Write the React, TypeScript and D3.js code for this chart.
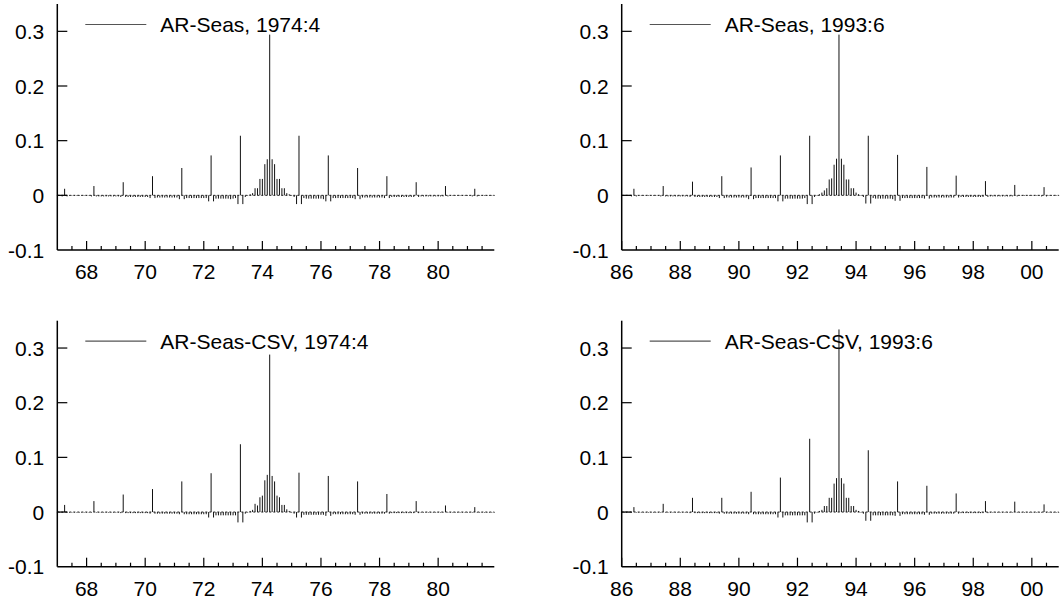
import * as d3 from "d3";

// monthly weights, one row per year (Jan..Dec)
// AR-Seas, 1974:4 -- 1967:1 .. 1981:12
const arSeas74 = [
  -.001, -.001, -.002, .012, -.002, -.001, -.001, -.001, -.001, -.001, -.001, -.001,
  -.001, -.001, -.002, .017, -.002, -.002, -.002, -.002, -.002, -.002, -.002, -.002,
  -.002, -.002, -.003, .024, -.003, -.003, -.003, -.003, -.003, -.003, -.003, -.003,
  -.003, -.003, -.005, .035, -.005, -.004, -.004, -.004, -.004, -.004, -.004, -.004,
  -.004, -.004, -.007, .050, -.007, -.005, -.005, -.005, -.005, -.005, -.005, -.005,
  -.005, -.005, -.011, .073, -.011, -.006, -.006, -.006, -.006, -.006, -.006, -.007,
  -.006, -.005, -.016, .109, -.016, -.003, -.001, .002, .004, .013, .013, .030,
  .030, .057, .066, .294, .066, .057, .030, .030, .013, .013, .004, .002,
  -.001, -.003, -.016, .109, -.016, -.005, -.006, -.006, -.006, -.006, -.006, -.006,
  -.006, -.007, -.011, .073, -.011, -.005, -.005, -.005, -.005, -.005, -.005, -.005,
  -.005, -.005, -.007, .050, -.007, -.004, -.004, -.004, -.004, -.004, -.004, -.004,
  -.004, -.004, -.005, .035, -.005, -.003, -.003, -.003, -.003, -.003, -.003, -.003,
  -.003, -.003, -.003, .024, -.003, -.002, -.002, -.002, -.002, -.002, -.002, -.002,
  -.002, -.002, -.002, .017, -.002, -.001, -.001, -.001, -.001, -.001, -.001, -.001,
  -.001, -.001, -.002, .012, -.002, -.001, -.001, -.001, -.001, -.001, -.001, -.001,
];

// AR-Seas, 1993:6 -- 1986:1 .. 2000:12
const arSeas93 = [
  -.001, -.001, -.001, -.001, -.002, .012, -.002, -.001, -.001, -.001, -.001, -.001,
  -.001, -.001, -.001, -.001, -.002, .017, -.002, -.002, -.002, -.002, -.002, -.002,
  -.002, -.002, -.002, -.002, -.003, .025, -.003, -.003, -.003, -.003, -.003, -.003,
  -.003, -.003, -.003, -.003, -.005, .035, -.005, -.004, -.004, -.004, -.004, -.004,
  -.004, -.004, -.004, -.004, -.007, .051, -.007, -.005, -.005, -.005, -.005, -.005,
  -.005, -.005, -.005, -.005, -.011, .073, -.011, -.006, -.006, -.006, -.006, -.006,
  -.006, -.006, -.006, -.005, -.016, .109, -.016, -.003, -.001, .002, .005, .009,
  .013, .029, .031, .056, .067, .294, .067, .056, .029, .029, .013, .013,
  .005, .002, -.001, -.003, -.015, .109, -.015, -.005, -.006, -.006, -.006, -.006,
  -.006, -.006, -.006, -.007, -.010, .074, -.010, -.005, -.005, -.005, -.005, -.005,
  -.005, -.005, -.005, -.005, -.006, .052, -.006, -.004, -.004, -.004, -.004, -.004,
  -.004, -.004, -.004, -.004, -.004, .036, -.004, -.003, -.003, -.003, -.003, -.003,
  -.003, -.003, -.003, -.003, -.003, .026, -.003, -.002, -.002, -.002, -.002, -.002,
  -.002, -.002, -.002, -.002, -.002, .019, -.002, -.001, -.001, -.001, -.001, -.001,
  -.001, -.001, -.001, -.001, -.002, .015, -.002, -.001, -.001, -.001, -.001, -.001,
];

// AR-Seas-CSV, 1974:4 -- 1967:1 .. 1981:12
const arSeasCsv74 = [
  -.001, -.001, -.001, .013, -.001, -.001, -.001, -.001, -.001, -.001, -.001, -.001,
  -.001, -.001, -.001, .020, -.001, -.001, -.001, -.001, -.001, -.001, -.001, -.001,
  -.001, -.001, -.002, .032, -.002, -.002, -.002, -.002, -.002, -.002, -.002, -.002,
  -.002, -.002, -.003, .042, -.003, -.003, -.003, -.003, -.003, -.003, -.003, -.003,
  -.003, -.003, -.004, .056, -.004, -.004, -.004, -.004, -.004, -.004, -.004, -.004,
  -.004, -.004, -.010, .071, -.010, -.006, -.006, -.006, -.006, -.006, -.006, -.006,
  -.006, -.006, -.019, .124, -.019, -.003, -.001, .002, .004, .015, .012, .027,
  .030, .058, .068, .288, .066, .056, .030, .027, .013, .013, .005, .002,
  -.001, -.003, -.010, .072, -.010, -.005, -.005, -.005, -.005, -.005, -.005, -.005,
  -.005, -.005, -.007, .066, -.007, -.004, -.004, -.004, -.004, -.004, -.004, -.004,
  -.004, -.004, -.005, .056, -.005, -.003, -.003, -.003, -.003, -.003, -.003, -.003,
  -.003, -.003, -.003, .033, -.003, -.002, -.002, -.002, -.002, -.002, -.002, -.002,
  -.002, -.002, -.002, .020, -.002, -.001, -.001, -.001, -.001, -.001, -.001, -.001,
  -.001, -.001, -.001, .012, -.001, -.001, -.001, -.001, -.001, -.001, -.001, -.001,
  -.001, -.001, -.001, .009, -.001, -.001, -.001, -.001, -.001, -.001, -.001, -.001,
];

// AR-Seas-CSV, 1993:6 -- 1986:1 .. 2000:12
const arSeasCsv93 = [
  -.001, -.001, -.001, -.001, -.001, .009, -.001, -.001, -.001, -.001, -.001, -.001,
  -.001, -.001, -.001, -.001, -.001, .015, -.001, -.001, -.001, -.001, -.001, -.001,
  -.001, -.001, -.001, -.001, -.002, .026, -.002, -.002, -.002, -.002, -.002, -.002,
  -.002, -.002, -.002, -.002, -.003, .026, -.003, -.003, -.003, -.003, -.003, -.003,
  -.003, -.003, -.003, -.003, -.004, .037, -.004, -.004, -.004, -.004, -.004, -.004,
  -.004, -.004, -.004, -.004, -.010, .063, -.010, -.006, -.006, -.006, -.006, -.006,
  -.006, -.006, -.006, -.006, -.019, .134, -.019, -.003, -.001, .002, .004, .011,
  .011, .026, .026, .052, .062, .334, .062, .052, .026, .026, .011, .011,
  .004, .002, -.001, -.003, -.016, .113, -.016, -.006, -.006, -.006, -.006, -.006,
  -.006, -.006, -.006, -.006, -.007, .056, -.007, -.004, -.004, -.004, -.004, -.004,
  -.004, -.004, -.004, -.004, -.005, .048, -.005, -.003, -.003, -.003, -.003, -.003,
  -.003, -.003, -.003, -.003, -.003, .034, -.003, -.002, -.002, -.002, -.002, -.002,
  -.002, -.002, -.002, -.002, -.002, .020, -.002, -.001, -.001, -.001, -.001, -.001,
  -.001, -.001, -.001, -.001, -.001, .019, -.001, -.001, -.001, -.001, -.001, -.001,
  -.001, -.001, -.001, -.001, -.001, .014, -.001, -.001, -.001, -.001, -.001, -.001,
];

const yTicks = [0.3, 0.2, 0.1, 0, -0.1];
const yLabels = ["0.3", "0.2", "0.1", "0", "-0.1"];
const yearsEarly = [1968, 1970, 1972, 1974, 1976, 1978, 1980];
const yearsLate = [1986, 1988, 1990, 1992, 1994, 1996, 1998, 2000];

const W = 1061;
const H = 605;
const font = "'Liberation Sans', Arial, sans-serif";

const panels = [
  { title: "AR-Seas, 1974:4", data: arSeas74, start: 1967, majors: yearsEarly, x0: 57.3, y0: 4 },
  { title: "AR-Seas, 1993:6", data: arSeas93, start: 1986, majors: yearsLate, x0: 621.7, y0: 4 },
  { title: "AR-Seas-CSV, 1974:4", data: arSeasCsv74, start: 1967, majors: yearsEarly, x0: 57.3, y0: 320.7 },
  { title: "AR-Seas-CSV, 1993:6", data: arSeasCsv93, start: 1986, majors: yearsLate, x0: 621.7, y0: 320.7 },
];

const plotW = 437;
const plotH = 246;

const Panel = ({ p }) => {
  const span = 14 + 11 / 12;
  const x = d3.scaleLinear().domain([p.start, p.start + span]).range([p.x0, p.x0 + plotW]);
  const y = d3.scaleLinear().domain([-0.1, 0.35]).range([p.y0 + plotH, p.y0]);
  const bottom = y(-0.1);
  const minors = d3.range(p.start + 0.5, p.start + span, 0.5).filter((v) => !p.majors.includes(v));

  return (
    <g>
      {/* zero line */}
      <line x1={x.range()[0]} x2={x.range()[1]} y1={y(0)} y2={y(0)}
        stroke="#222" strokeWidth={1} strokeDasharray="2,2" />
      {/* legend */}
      <line x1={p.x0 + 28} x2={p.x0 + 89} y1={p.y0 + 20.5} y2={p.y0 + 20.5} stroke="#555" strokeWidth={1.2} />
      <text x={p.x0 + 103} y={p.y0 + 20.5} dy="0.36em" fontSize={21} fontFamily={font}>{p.title}</text>
      {/* spikes */}
      <g stroke="#111" strokeWidth={1}>
        {p.data.map((v, i) => {
          const t = p.start + Math.floor(i / 12) + (i % 12) / 12;
          return <line key={i} x1={x(t)} x2={x(t)} y1={y(0)} y2={y(v)} />;
        })}
      </g>
      {/* axes */}
      <line x1={p.x0} x2={p.x0} y1={p.y0} y2={bottom} stroke="#000" strokeWidth={1.5} />
      <line x1={p.x0} x2={p.x0 + plotW} y1={bottom} y2={bottom} stroke="#000" strokeWidth={1.5} />
      {yTicks.map((t, i) => (
        <g key={t}>
          {t > -0.1 && <line x1={p.x0} x2={p.x0 + 10} y1={y(t)} y2={y(t)} stroke="#000" strokeWidth={1.2} />}
          <text x={p.x0 - 13} y={y(t)} dy="0.36em" textAnchor="end" fontSize={21} fontFamily={font}>{yLabels[i]}</text>
        </g>
      ))}
      {p.majors.map((t) => (
        <g key={t}>
          <line x1={x(t)} x2={x(t)} y1={bottom} y2={bottom - 9} stroke="#000" strokeWidth={1.2} />
          <text x={x(t)} y={bottom + 29} textAnchor="middle" fontSize={21} fontFamily={font}>{String(t).slice(2)}</text>
        </g>
      ))}
      {minors.map((t) => (
        <line key={t} x1={x(t)} x2={x(t)} y1={bottom} y2={bottom - 4} stroke="#000" strokeWidth={1.2} />
      ))}
    </g>
  );
};

export default function App() {
  return (
    <svg width={W} height={H} viewBox={`0 0 ${W} ${H}`}
      style={{ position: "absolute", left: 0, top: 0, background: "#fff" }}>
      {panels.map((p) => <Panel key={p.title} p={p} />)}
    </svg>
  );
}
